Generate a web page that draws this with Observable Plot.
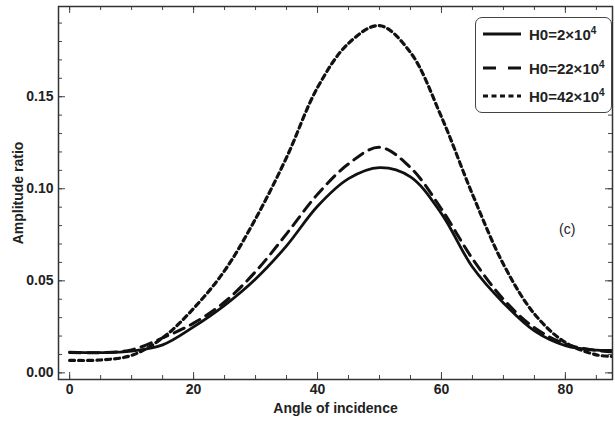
<!DOCTYPE html>
<html>
<head>
<meta charset="utf-8">
<script src="https://cdn.jsdelivr.net/npm/d3@7"></script>
<script src="https://cdn.jsdelivr.net/npm/@observablehq/plot@0.6"></script>
<style>
  html, body { margin: 0; padding: 0; background: #fff; }
  #wrap { position: relative; width: 615px; height: 431px; }
  #legend {
    position: absolute; left: 475px; top: 17px; width: 135px; height: 94px;
    border: 1.3px solid #444; border-radius: 7px; background: #fff;
    font-family: "Liberation Sans", Arial, sans-serif;
    font-weight: bold; font-size: 15px; color: #222;
  }
  .row { position: absolute; left: 6px; height: 20px; display: flex; align-items: center; }
  .row svg { margin-right: 7px; }
  sup { font-size: 10px; vertical-align: 6px; line-height: 0; }
  #clabel { position: absolute; left: 559px; top: 221px; font-family: "Liberation Sans", Arial, sans-serif; font-size: 14px; color: #222; }
</style>
</head>
<body>
<div id="wrap"></div>
<script>
// ---- data ----
const angles = [0, 5, 10, 15, 20, 25, 30, 35, 40, 45, 50, 55, 60, 65, 70, 75, 80, 85, 87.5];
const h0_2  = [0.0113, 0.0110, 0.0118, 0.0152, 0.0250, 0.0367, 0.0510, 0.0690, 0.0905, 0.1055, 0.1115, 0.1065, 0.0865, 0.0575, 0.0380, 0.0228, 0.0148, 0.0123, 0.0122];
const h0_22 = [0.0110, 0.0110, 0.0125, 0.0190, 0.0270, 0.0385, 0.0550, 0.0755, 0.0970, 0.1135, 0.1225, 0.1115, 0.0890, 0.0620, 0.0400, 0.0245, 0.0157, 0.0122, 0.0115];
const h0_42 = [0.0068, 0.0070, 0.0095, 0.0190, 0.0350, 0.0555, 0.0837, 0.1170, 0.1550, 0.1790, 0.1886, 0.1740, 0.1390, 0.0970, 0.0590, 0.0320, 0.0165, 0.0098, 0.0090];
const seriesNames = ["H0=2×10^4", "H0=22×10^4", "H0=42×10^4"];
const xTicks = [0, 20, 40, 60, 80];
const yTicks = [0, 0.05, 0.10, 0.15];
const xLabel = "Angle of incidence";
const yLabel = "Amplitude ratio";

const W = 615, H = 431;
const mL = 58, mR = 3, mT = 6, mB = 52;
const innerW = W - mL - mR, innerH = H - mT - mB;

const rows = (vals, name) => angles.map((a, i) => ({angle: a, value: vals[i], series: name}));
const s1 = rows(h0_2, seriesNames[0]);
const s2 = rows(h0_22, seriesNames[1]);
const s3 = rows(h0_42, seriesNames[2]);

const xMinor = d3.range(0, 88, 5);
const yMinor = d3.range(0, 0.2, 0.01).map(v => +v.toFixed(2));

const font = '"Liberation Sans", Arial, sans-serif';
const tickColor = "#444";

const chart = Plot.plot({
  width: W, height: H,
  marginLeft: mL, marginRight: mR, marginTop: mT, marginBottom: mB,
  style: {fontFamily: font, fontSize: "14px", fontWeight: "bold", color: "#333", background: "#fff"},
  x: {domain: [-1.8, 87.6], ticks: xTicks, tickFormat: d3.format("d")},
  y: {domain: [-0.0036, 0.199], ticks: yTicks, tickFormat: d3.format(".2f")},
  marks: [
    // minor ticks (inward) on all four sides
    Plot.tickX(xMinor, {x: d => d, insetTop: innerH - 4, stroke: tickColor}),
    Plot.tickX(xMinor, {x: d => d, insetBottom: innerH - 4, stroke: tickColor}),
    Plot.tickY(yMinor, {y: d => d, insetRight: innerW - 4, stroke: tickColor}),
    Plot.tickY(yMinor, {y: d => d, insetLeft: innerW - 4, stroke: tickColor}),
    // major ticks
    Plot.tickX(xTicks, {x: d => d, insetTop: innerH - 7, stroke: tickColor}),
    Plot.tickX(xTicks, {x: d => d, insetBottom: innerH - 7, stroke: tickColor}),
    Plot.tickY(yTicks, {y: d => d, insetRight: innerW - 7, stroke: tickColor}),
    Plot.tickY(yTicks, {y: d => d, insetLeft: innerW - 7, stroke: tickColor}),
    Plot.axisX({ticks: xTicks, tickSize: 0, tickPadding: 5, label: null, fill: "#222", tickFormat: d3.format("d")}),
    Plot.axisY({ticks: yTicks, tickSize: 0, tickPadding: 5, label: null, fill: "#222", tickFormat: d3.format(".2f")}),
    Plot.line(s1, {x: "angle", y: "value", curve: "catmull-rom", stroke: "#111", strokeWidth: 2.8, clip: true}),
    Plot.line(s2, {x: "angle", y: "value", curve: "catmull-rom", stroke: "#111", strokeWidth: 3, strokeDasharray: "11,7", clip: true}),
    Plot.line(s3, {x: "angle", y: "value", curve: "catmull-rom", stroke: "#111", strokeWidth: 3.2, strokeDasharray: "5,4", clip: true}),
    Plot.frame({stroke: "#333", strokeWidth: 1.5}),
    Plot.text([xLabel], {text: d => d, frameAnchor: "bottom", dy: 33, fill: "#222", fontSize: 14}),
    Plot.text([yLabel], {text: d => d, frameAnchor: "left", textAnchor: "middle", dx: -40, rotate: -90, fill: "#222", fontSize: 14})
  ]
});

const wrap = document.getElementById("wrap");
wrap.appendChild(chart);

// legend (inside the frame, top-right)
const legend = document.createElement("div");
legend.id = "legend";
const dashes = [null, "13,12", "5,3.5"];
const tops = [6, 40, 68];
seriesNames.forEach((name, i) => {
  const row = document.createElement("div");
  row.className = "row";
  row.style.top = tops[i] + "px";
  const [base, exp] = name.split("^");
  row.innerHTML =
    `<svg width="40" height="10"><line x1="1" y1="5" x2="39" y2="5" stroke="#111" stroke-width="3"${dashes[i] ? ` stroke-dasharray="${dashes[i]}"` : ""}/></svg>` +
    `<span>${base}<sup>${exp}</sup></span>`;
  legend.appendChild(row);
});
wrap.appendChild(legend);

const c = document.createElement("div");
c.id = "clabel";
c.textContent = "(c)";
wrap.appendChild(c);
</script>
</body>
</html>
